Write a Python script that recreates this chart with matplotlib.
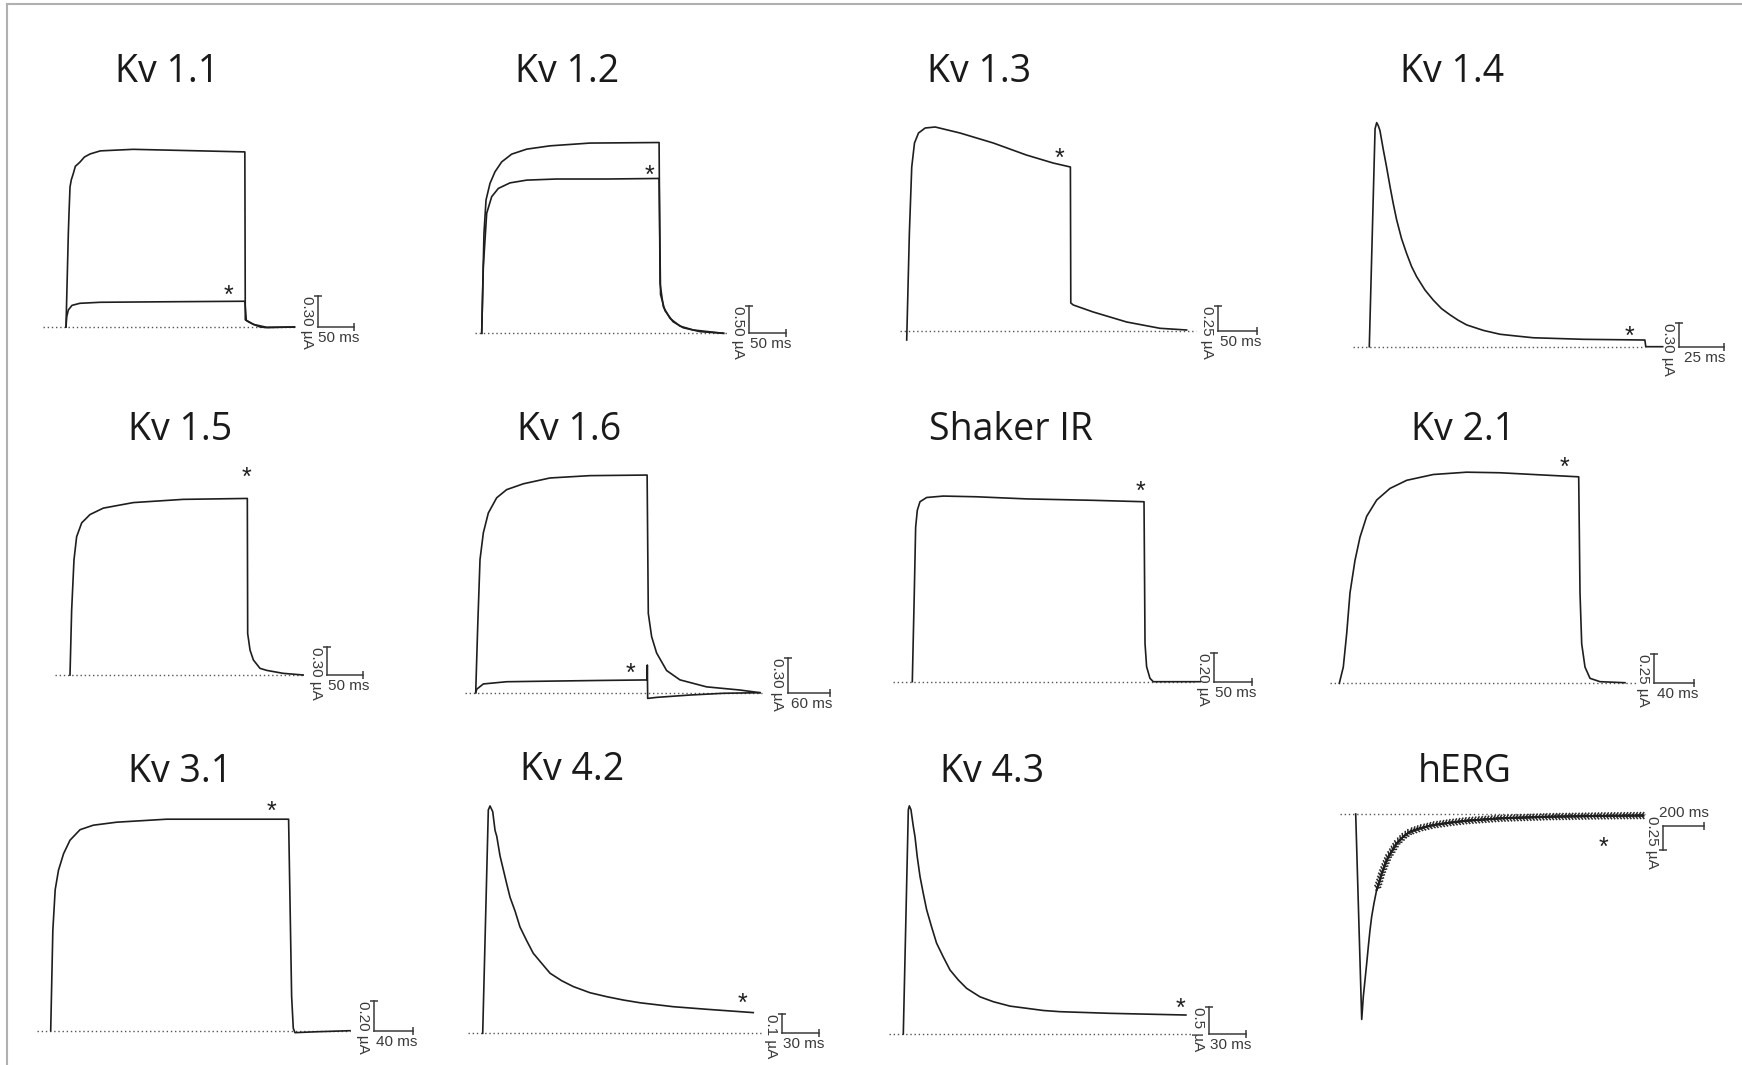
import matplotlib.pyplot as plt
import matplotlib.patheffects as pe
from matplotlib.transforms import offset_copy

# current traces, time in ms, current in µA
kv11_t = [0, 3.2, 4.1, 5.5, 7.3, 10, 12.8, 19, 25.2, 33, 47, 92, 184, 245, 245.6, 250, 257, 266, 275, 313]
kv11_i = [0, 0.91, 1.10, 1.36, 1.43, 1.49, 1.56, 1.60, 1.65, 1.68, 1.71, 1.725, 1.71, 1.70, 0.07, 0.05, 0.025, 0.0, -0.006, 0]
kv11b_t = [0, 1, 3.2, 8.2, 19, 47, 138, 245, 247, 257, 275, 313]
kv11b_i = [0, 0.10, 0.165, 0.21, 0.23, 0.24, 0.245, 0.25, 0.065, 0.025, -0.003, 0]

kv12_t = [0, 3.1, 5.9, 11.3, 18.1, 27.3, 40.9, 61.4, 93.2, 147.7, 242, 243.3, 247.8, 256.9, 270.5, 288.7, 316, 330]
kv12_i = [0, 1.81, 2.41, 2.71, 2.92, 3.10, 3.24, 3.33, 3.39, 3.44, 3.45, 0.90, 0.48, 0.27, 0.13, 0.06, 0.02, 0]
kv12b_t = [0, 2.2, 6.8, 13.6, 22.7, 38.6, 61.4, 102, 170, 242, 244, 250, 261, 275, 298, 330]
kv12b_i = [0, 1.20, 2.17, 2.47, 2.62, 2.72, 2.77, 2.79, 2.79, 2.80, 0.70, 0.41, 0.21, 0.10, 0.03, 0]

kv13_t = [0, 3.4, 6.4, 9.9, 15, 23.5, 36.2, 67.7, 110, 152, 186, 208, 208.5, 211.7, 237, 279.5, 321.8, 355.7]
kv13_i = [-0.09, 0.98, 1.64, 1.88, 1.98, 2.03, 2.04, 1.98, 1.88, 1.76, 1.68, 1.64, 0.28, 0.26, 0.19, 0.09, 0.027, 0.01]

kv14_t = [0, 3.2, 4.1, 5.0, 5.9, 7.8, 9.6, 11.5, 13.3, 15.2, 17.9, 20.7, 23.5, 26.3, 30.9, 35.5, 40.1,
          44.8, 49.4, 54.1, 63.3, 72.6, 81.8, 91.1, 118.9, 153.1, 153.6, 163]
kv14_i = [0, 2.80, 2.88, 2.84, 2.78, 2.53, 2.31, 2.06, 1.84, 1.63, 1.39, 1.20, 1.03, 0.90, 0.73, 0.60, 0.49,
          0.41, 0.34, 0.28, 0.21, 0.16, 0.137, 0.115, 0.095, 0.086, 0.0, 0.0]

kv15_t = [0, 2.3, 5.6, 9.3, 16.4, 28, 46.7, 88.8, 158.9, 248.7, 249.2, 252.5, 257.2, 266.5, 276, 299, 327]
kv15_i = [0, 0.70, 1.25, 1.50, 1.65, 1.74, 1.81, 1.87, 1.905, 1.915, 0.45, 0.27, 0.163, 0.072, 0.05, 0.018, 0]

kv16_t = [0, 2.9, 6.2, 11, 18.2, 30.2, 44.6, 68.6, 107, 164.7, 247, 248.7, 253.5, 260.7, 275.1, 294.3, 332.7, 380.7, 409.6]
kv16_i = [0, 0.57, 1.14, 1.37, 1.54, 1.67, 1.74, 1.79, 1.84, 1.86, 1.865, 0.68, 0.48, 0.34, 0.19, 0.11, 0.05, 0.023, 0]
kv16b_t = [0, 1.5, 11, 44.6, 116.7, 180, 241.4, 247, 247.3, 247.8, 260.7, 308.7, 356.8, 409.6]
kv16b_i = [0, 0.03, 0.075, 0.094, 0.10, 0.105, 0.109, 0.109, 0.237, -0.049, -0.04, -0.02, -0.005, 0]

shir_t = [0, 2.6, 4.4, 6.6, 10.1, 18.9, 40.8, 84.6, 150.4, 238.2, 304.9, 306.2, 308.3, 312.7, 317.1, 378.8]
shir_i = [0, 0.62, 1.09, 1.21, 1.27, 1.30, 1.31, 1.305, 1.29, 1.28, 1.27, 0.27, 0.106, 0.024, 0, 0]

kv21_t = [0, 4.0, 7.4, 10.7, 15.7, 20.7, 27.4, 37.4, 50.7, 67.4, 94, 127.4, 160.7, 194, 239.4, 240.7, 242.4, 245.7, 250.7, 260.7, 285.7]
kv21_i = [0, 0.14, 0.43, 0.78, 1.06, 1.26, 1.44, 1.58, 1.68, 1.75, 1.80, 1.82, 1.815, 1.80, 1.78, 0.78, 0.34, 0.14, 0.043, 0.014, 0.005]

kv31_t = [0, 2.2, 4.6, 8.0, 13.2, 19.8, 30.1, 43.7, 67.6, 118.9, 187.2, 244, 247.1, 248.8, 250.5, 272.8, 307]
kv31_i = [0, 0.67, 0.94, 1.07, 1.18, 1.27, 1.34, 1.37, 1.39, 1.41, 1.41, 1.41, 0.23, 0.016, -0.013, -0.007, 0]

kv42_t = [0, 4.6, 6.0, 8.2, 10.1, 11.5, 14.2, 16.9, 19.6, 22.4, 26.5, 30.5, 36.0, 41.4, 48.3, 55.1, 64.6,
          74.2, 87.8, 101.4, 115, 128.7, 156, 183.2, 221.4]
kv42_i = [0, 1.134, 1.154, 1.125, 1.03, 1.00, 0.90, 0.83, 0.76, 0.69, 0.62, 0.54, 0.47, 0.406, 0.355, 0.305, 0.267,
          0.237, 0.206, 0.186, 0.169, 0.155, 0.135, 0.122, 0.105]

kv43_t = [0, 4.0, 4.8, 6.1, 8.0, 9.3, 11.1, 13.3, 15.9, 18.6, 22.5, 26.5, 31.8, 37.2, 43.7, 50.4, 61,
          71.7, 84.9, 98.2, 111.4, 124.7, 164.5, 225]
kv43_i = [0, 4.10, 4.17, 4.10, 3.79, 3.61, 3.24, 2.88, 2.57, 2.27, 1.96, 1.66, 1.41, 1.17, 0.99, 0.835, 0.68,
          0.59, 0.51, 0.47, 0.43, 0.408, 0.378, 0.347]

herg_t = [0, 29.6, 37.6, 45.8, 54, 62.2, 70.4, 78.6, 90, 103.3, 116.3, 127.9, 144.2, 160.8, 182, 201.8,
          234.5, 267.5, 316.6, 382.4, 464.4, 546.6, 710.8, 957, 1203, 1417]
herg_i = [0, -2.14, -1.90, -1.73, -1.56, -1.38, -1.21, -1.07, -0.93, -0.79, -0.705, -0.62, -0.53, -0.445, -0.375, -0.305,
          -0.236, -0.184, -0.149, -0.115, -0.09, -0.07, -0.045, -0.028, -0.02, -0.016]

names = ['Kv 1.1', 'Kv 1.2', 'Kv 1.3', 'Kv 1.4', 'Kv 1.5', 'Kv 1.6',
         'Shaker IR', 'Kv 2.1', 'Kv 3.1', 'Kv 4.2', 'Kv 4.3', 'hERG']
traces = [[(kv11_t, kv11_i), (kv11b_t, kv11b_i)], [(kv12_t, kv12_i), (kv12b_t, kv12b_i)],
          [(kv13_t, kv13_i)], [(kv14_t, kv14_i)], [(kv15_t, kv15_i)],
          [(kv16_t, kv16_i), (kv16b_t, kv16b_i)], [(shir_t, shir_i)], [(kv21_t, kv21_i)],
          [(kv31_t, kv31_i)], [(kv42_t, kv42_i)], [(kv43_t, kv43_i)], [(herg_t, herg_i)]]
# asterisk (ms, µA)
stars = [(223, 0.36), (228.6, 2.95), (193.9, 1.78), (144.8, 0.21), (247.8, 2.2), (223.3, 0.21),
         (300.9, 1.38), (225, 1.91), (226.7, 1.50), (212.5, 0.178), (220.3, 0.57), (1219.7, -0.288)]
# dotted zero line, from / to (ms)
zero_span = [(-31, 313), (-9, 334), (-8.5, 368), (-9, 153), (-21, 327), (-15, 412),
             (-25, 370), (-9, 297), (-14, 307), (-12, 228), (-11, 231), (-77, 1425)]
# scale bars: position (ms), length in ms, length in µA
bar_pos = [345, 365, 395, 172, 361, 450, 397, 315, 332, 245, 243, 1515]
bar_ms = [50, 50, 50, 25, 50, 60, 50, 40, 40, 30, 30, 200]
bar_ua = [0.30, 0.50, 0.25, 0.30, 0.30, 0.30, 0.20, 0.25, 0.20, 0.1, 0.5, 0.25]
bar_ua_txt = ['0.30', '0.50', '0.25', '0.30', '0.30', '0.30', '0.20', '0.25', '0.20', '0.1', '0.5', '0.25']

# layout in pixels: panel origin (t=0, I=0), pixels per ms, pixels per µA
origin = [(66, 327), (481.7, 333.3), (906.7, 331), (1369.3, 346.7),
          (70, 675), (475.7, 692.7), (912.3, 681.7), (1339.3, 683.3),
          (50.7, 1030.7), (482.7, 1033.3), (903.3, 1034), (1355.7, 814)]
px_ms = [0.73, 0.733, 0.787, 1.8, 0.713, 0.694, 0.76, 1.0, 0.975, 1.222, 1.256, 0.203]
px_ua = [103, 55.3, 100, 77.8, 92.2, 116.7, 141.7, 116, 150, 197, 54.7, 96]
title_xy = [(167, 81.7), (567.5, 81.7), (979.5, 81.7), (1451.7, 81.7),
            (179.7, 440), (568.7, 440), (1010.8, 440), (1462.8, 440),
            (179.7, 781.7), (572.2, 780), (991.7, 781.7), (1465, 781.7)]

W, H = 1742, 1065
col_edges = [0, 440, 860, 1300, 1742]
row_edges = [0, 360, 730, 1065]

fig = plt.figure(figsize=(W / 100, H / 100), dpi=100)
fig.patch.set_facecolor('white')

ink = '#1e1e1e'
grey = '#3a3a3a'

for k, name in enumerate(names):
    c, r = k % 4, k // 4
    l, rr = col_edges[c], col_edges[c + 1]
    t, b = row_edges[r], row_edges[r + 1]
    ax = fig.add_axes([l / W, 1 - b / H, (rr - l) / W, (b - t) / H])
    x0, y0 = origin[k]
    ax.set_xlim((l - x0) / px_ms[k], (rr - x0) / px_ms[k])
    ax.set_ylim((y0 - b) / px_ua[k], (y0 - t) / px_ua[k])
    ax.axis('off')

    ax.plot(zero_span[k], [0, 0], color='#555555', lw=1.0, ls=(0, (1, 2)))
    for tt, ii in traces[k]:
        ax.plot(tt, ii, color=ink, lw=1.2, solid_joinstyle='round')
    if name == 'hERG':
        # the dense ripple on the tail, drawn as a ticked stroke
        ax.plot(herg_t[9:], herg_i[9:], color=ink, lw=1.4,
                path_effects=[pe.withTickedStroke(spacing=2.3, angle=55, length=1.1,
                                                  linewidth=1.1, foreground='#2a2a2a'),
                              pe.withTickedStroke(spacing=2.3, angle=-55, length=1.1,
                                                  linewidth=1.1, foreground='#2a2a2a')])

    st = offset_copy(ax.transData, fig=fig, x=0, y=-13, units='dots')
    ax.text(stars[k][0], stars[k][1], '*', transform=st, ha='center', va='baseline',
            fontsize=18, family='Liberation Sans', color=ink)

    bx = bar_pos[k]
    if name == 'hERG':
        top = -0.125
        ax.plot([bx, bx + bar_ms[k]], [top, top], color=grey, lw=1.1)
        ax.plot([bx, bx], [top, top - bar_ua[k]], color=grey, lw=1.1)
        ax.plot([bx + bar_ms[k]], [top], marker='|', ms=6, color=grey, mew=1.1)
        ax.plot([bx], [top - bar_ua[k]], marker='_', ms=6, color=grey, mew=1.1)
        tr = offset_copy(ax.transData, fig=fig, x=0, y=6, units='dots')
        ax.text(bx + bar_ms[k] / 2, top, f'{bar_ms[k]} ms', transform=tr, ha='center',
                va='bottom', fontsize=11, family='Liberation Sans', color=grey)
        tr = offset_copy(ax.transData, fig=fig, x=-11, y=10, units='dots')
        ax.text(bx, top, f'{bar_ua_txt[k]} µA', transform=tr, rotation=270, ha='center',
                va='top', fontsize=11, family='Liberation Sans', color=grey)
    else:
        ax.plot([bx, bx], [0, bar_ua[k]], color=grey, lw=1.1)
        ax.plot([bx, bx + bar_ms[k]], [0, 0], color=grey, lw=1.1)
        ax.plot([bx], [bar_ua[k]], marker='_', ms=6, color=grey, mew=1.1)
        ax.plot([bx + bar_ms[k]], [0], marker='|', ms=6, color=grey, mew=1.1)
        tr = offset_copy(ax.transData, fig=fig, x=3, y=-4, units='dots')
        ax.text(bx + bar_ms[k] / 2, 0, f'{bar_ms[k]} ms', transform=tr, ha='center',
                va='top', fontsize=11, family='Liberation Sans', color=grey)
        tr = offset_copy(ax.transData, fig=fig, x=-11, y=0, units='dots')
        ax.text(bx, bar_ua[k], f'{bar_ua_txt[k]} µA', transform=tr, rotation=270,
                ha='center', va='top', fontsize=11, family='Liberation Sans', color=grey)

    fig.text(title_xy[k][0] / W, 1 - title_xy[k][1] / H, name, ha='center', va='baseline',
             fontsize=27, family='Open Sans', color='#1a1a1a')

# thin frame lines at the top and left edge
fig.add_artist(plt.Line2D([7 / W, 1], [1 - 4 / H, 1 - 4 / H], color='#b0b0b0', lw=1.5))
fig.add_artist(plt.Line2D([7 / W, 7 / W], [0, 1 - 4 / H], color='#b0b0b0', lw=1.5))

fig.savefig('out.png', dpi=100, facecolor='white')
